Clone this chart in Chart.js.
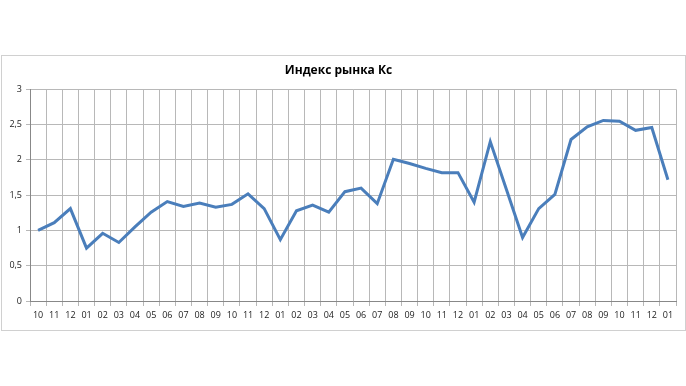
<!DOCTYPE html>
<html>
<head>
<meta charset="utf-8">
<script src="https://cdn.jsdelivr.net/npm/chart.js@4"></script>
<style>
    html, body { margin: 0; padding: 0; background: #fff; }
    #box { position: absolute; left: 1px; top: 55px; width: 683px; height: 274px; border: 1px solid #d0d0d0; }
    #wrap { position: absolute; left: 0; top: 0; width: 686px; height: 386px; }
</style>
</head>
<body>
<div id="box"></div>
<div id="wrap"><canvas id="chart" width="686" height="386"></canvas></div>
<script>
// months, Oct .. Jan three years later
const months = [
    '10', '11', '12',
    '01', '02', '03', '04', '05', '06', '07', '08', '09', '10', '11', '12',
    '01', '02', '03', '04', '05', '06', '07', '08', '09', '10', '11', '12',
    '01', '02', '03', '04', '05', '06', '07', '08', '09', '10', '11', '12',
    '01',
];
const indexKc = [
    1.00, 1.11, 1.31,
    0.75, 0.96, 0.83, 1.05, 1.26, 1.41, 1.34, 1.39, 1.33, 1.37, 1.52, 1.31,
    0.87, 1.28, 1.36, 1.26, 1.55, 1.60, 1.38, 2.01, 1.95, 1.88, 1.82, 1.82,
    1.40, 2.26, 1.58, 0.90, 1.31, 1.51, 2.29, 2.47, 2.56, 2.55, 2.42, 2.46,
    1.72,
];
const titleText = 'Индекс рынка Кс';

const gridColor = '#b8b8b8';
const fontFamily = '"Open Sans", "Noto Sans", sans-serif';

const ctx = document.getElementById('chart').getContext('2d');
const chart = new Chart(ctx, {
    type: 'line',
    data: {
        labels: months,
        datasets: [
            {
                label: titleText,
                data: indexKc,
                borderColor: '#4a7ebb',
                borderWidth: 3,
                pointRadius: 0,
                tension: 0,
                fill: false,
            },
        ],
    },
    options: {
        responsive: false,
        animation: false,
        layout: {
            padding: { top: 55, left: 1, right: 10, bottom: 56 },
        },
        scales: {
            x: {
                offset: true,
                grid: {
                    offset: true,
                    color: gridColor,
                    tickLength: 5,
                },
                border: { color: '#888888' },
                ticks: {
                    color: '#222',
                    font: { family: fontFamily, size: 9 },
                    padding: 4,
                    maxRotation: 0,
                    autoSkip: false,
                },
                afterFit: (scale) => { scale.height = 29; },
            },
            y: {
                min: 0,
                max: 3,
                grid: {
                    color: gridColor,
                    tickLength: 4,
                },
                border: { color: '#888888' },
                ticks: {
                    stepSize: 0.5,
                    color: '#222',
                    font: { family: fontFamily, size: 9 },
                    padding: 4,
                    callback: (v) => String(v).replace('.', ','),
                },
                afterFit: (scale) => { scale.width = 29; },
            },
        },
        plugins: {
            legend: { display: false },
            tooltip: { enabled: false },
            title: {
                display: true,
                text: titleText,
                color: '#000',
                font: { family: fontFamily, size: 12, weight: 'bold' },
                padding: { top: 8, bottom: 12 },
            },
        },
    },
});
</script>
</body>
</html>
